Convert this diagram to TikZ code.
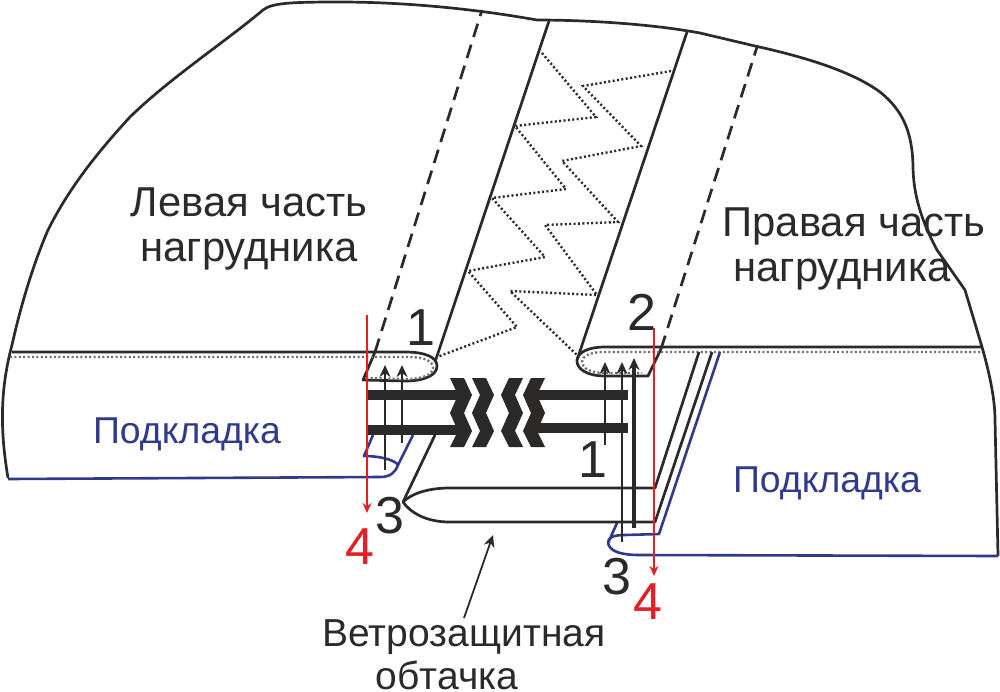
\documentclass[tikz,border=0pt]{standalone}
\usepackage{fontspec}
\setmainfont{Liberation Sans}
\usetikzlibrary{arrows.meta}
\definecolor{inkblack}{HTML}{2B2A29}
\definecolor{liningblue}{HTML}{2E3A8C}
\definecolor{markred}{HTML}{E31E24}
\definecolor{seamcolor}{HTML}{6F6F6F}
\tikzset{cutline/.style={draw=inkblack, line width=1.35pt, line join=round},
  foldline/.style={cutline, dash pattern=on 7pt off 4pt},
  liningline/.style={draw=liningblue, line width=1.3pt, line join=round},
  seamgray/.style={draw=seamcolor, line width=1.2pt, dash pattern=on 1pt off 1.2pt},
  stitchline/.style={draw=inkblack, line width=1.2pt, dash pattern=on 1pt off 1.2pt},
  barline/.style={draw=inkblack, line width=5pt},
  pointer/.style={draw=inkblack, line width=1.2pt, -{Stealth[length=6pt,width=5.5pt]}},
  redline/.style={draw=markred, line width=1.4pt, -{Stealth[length=5pt,width=4.5pt]}},
  biglabel/.style={font=\fontsize{20.9}{22.5}\selectfont, text=inkblack, inner sep=0pt, align=center},
  windtext/.style={font=\fontsize{19.5}{21.5}\selectfont, text=inkblack, inner sep=0pt, align=center},
  bluelabel/.style={font=\fontsize{18.7}{22}\selectfont, text=liningblue, inner sep=0pt},
  numlabel/.style={font=\fontsize{26}{26}\selectfont, text=inkblack, inner sep=0pt},
  rednum/.style={numlabel, text=markred}}
\newcommand{\chevronpair}{(0,378) -- (14,378) -- (22,395) -- (14,413) -- (22,431) -- (14,447) -- (0,447)
  -- (8,431) -- (0,413) -- (8,395) -- cycle}
\begin{document}
\begin{tikzpicture}[x=0.5pt, y=-0.5pt]
    \useasboundingbox (0,0) rectangle (1000,691);
    \draw[cutline] (8,478) .. controls (0,430) and (0,390) .. (12,345) .. controls (22,300) and (35,260) .. (48,230)
      .. controls (68,190) and (95,155) .. (130,117) .. controls (170,78) and (225,42) .. (263,10)
      .. controls (272,3) and (290,2) .. (340,2) .. controls (400,2) and (470,8) .. (537,20)
      .. controls (570,20) and (640,22) .. (700,33) -- (755,46) .. controls (800,56) and (850,70) .. (880,92)
      .. controls (905,112) and (912,135) .. (913,165) .. controls (913,195) and (922,222) .. (937,250)
      -- (965,290) -- (982,347) .. controls (990,375) and (995,400) .. (995,420) -- (998,556);
    % left fold
    \draw[cutline] (12,352) -- (405,352) .. controls (425,352) and (437,357) .. (437,366)
      .. controls (437,375) and (425,381) .. (405,381) -- (363,380) -- (375,352);
    \draw[seamgray] (10,357) -- (408,357) .. controls (425,357) and (433,361) .. (433,368)
      .. controls (433,375) and (422,379) .. (405,379) -- (368,378);
    \draw[foldline] (375,352) -- (482,10);
    \draw[cutline] (435,362) -- (549,21);
    % right fold
    \draw[cutline] (982,347) -- (605,347) .. controls (587,347) and (577,353) .. (577,361)
      .. controls (577,369) and (587,376) .. (605,376) -- (648,376) -- (661,349);
    \draw[seamgray] (980,352) -- (605,352) .. controls (590,352) and (582,356) .. (582,362)
      .. controls (582,368) and (590,373) .. (605,373) -- (642,373);
    \draw[foldline] (661,349) -- (757,47);
    \draw[cutline] (577,360) -- (687,32);
    % stitching
    \draw[stitchline] (542,53) -- (596,117) -- (515,126) -- (566,189) -- (492,198) -- (545,257)
      -- (468,271) -- (517,327) -- (437,357);
    \draw[stitchline] (671,71) -- (583,86) -- (641,146) -- (562,161) -- (618,222) -- (545,225)
      -- (597,295) -- (510,291) -- (577,355);
    % linings
    \draw[liningline] (373,435) -- (364,456) .. controls (380,456) and (395,460) .. (398,465)
      -- (413,435) (398,465) .. controls (395,473) and (390,477) .. (380,477) -- (8,479);
    \draw[liningline] (617,523) -- (608,543) .. controls (608,538) and (612,535) .. (625,535) -- (659,534)
      -- (720,352) (608,543) .. controls (610,552) and (622,555) .. (640,555) -- (998,556);
    % facing
    \draw[cutline] (699,352) -- (655,488) -- (450,488) .. controls (425,488) and (410,495) .. (403,502)
      .. controls (410,512) and (425,522) .. (450,522) -- (655,522) -- (712,352);
    \draw[cutline] (403,502) -- (435,435);
    % arrows
    \draw[pointer] (385,470) -- (385,365);
    \draw[pointer] (402,443) -- (402,365);
    \draw[pointer] (605,445) -- (605,362);
    \draw[pointer] (622,542) -- (622,362);
    \draw[pointer, line width=1.8pt] (634,528) -- (634,358);
    % seam bars
    \draw[barline] (368,395) -- (460,395);
    \draw[barline] (368,430) -- (460,430);
    \draw[barline] (628,395) -- (535,395);
    \draw[barline] (628,428) -- (535,428);
    \foreach \dx in {450,472}
      \fill[inkblack, shift={(\dx,0)}] \chevronpair;
    \foreach \dx in {523,545}
      \fill[inkblack, shift={(\dx,0)}, xscale=-1] \chevronpair;
    \draw[redline] (367,315) -- (367,513);
    \draw[redline] (654,328) -- (654,576);
    % labels
    \node[biglabel] (leftpart) at (249,229) {Левая часть\\нагрудника};
    \node[biglabel] (rightpart) at (854,249) {Правая часть\\нагрудника\hspace*{12pt}};
    \node[bluelabel] (leftlining) at (187,434) {Подкладка};
    \node[bluelabel] (rightlining) at (827,483) {Подкладка};
    \node[windtext] (windlabel) at (464,655) {Ветрозащитная\\обтачка\hspace*{17pt}};
    \coordinate (windtip) at (493,535);
    \coordinate (windfoot) at (464,618);
    \draw[pointer, line width=.9pt] (windfoot) -- (windtip);
    \node[numlabel] (numa) at (421,328) {1};
    \node[numlabel] (numb) at (642,312) {2};
    \node[numlabel] (numc) at (593,460) {1};
    \node[numlabel] (numd) at (390,516) {3};
    \node[numlabel] (nume) at (617,577) {3};
    \node[rednum] (numf) at (360,547) {4};
    \node[rednum] (numg) at (648,602) {4};
  \end{tikzpicture}
\end{document}
